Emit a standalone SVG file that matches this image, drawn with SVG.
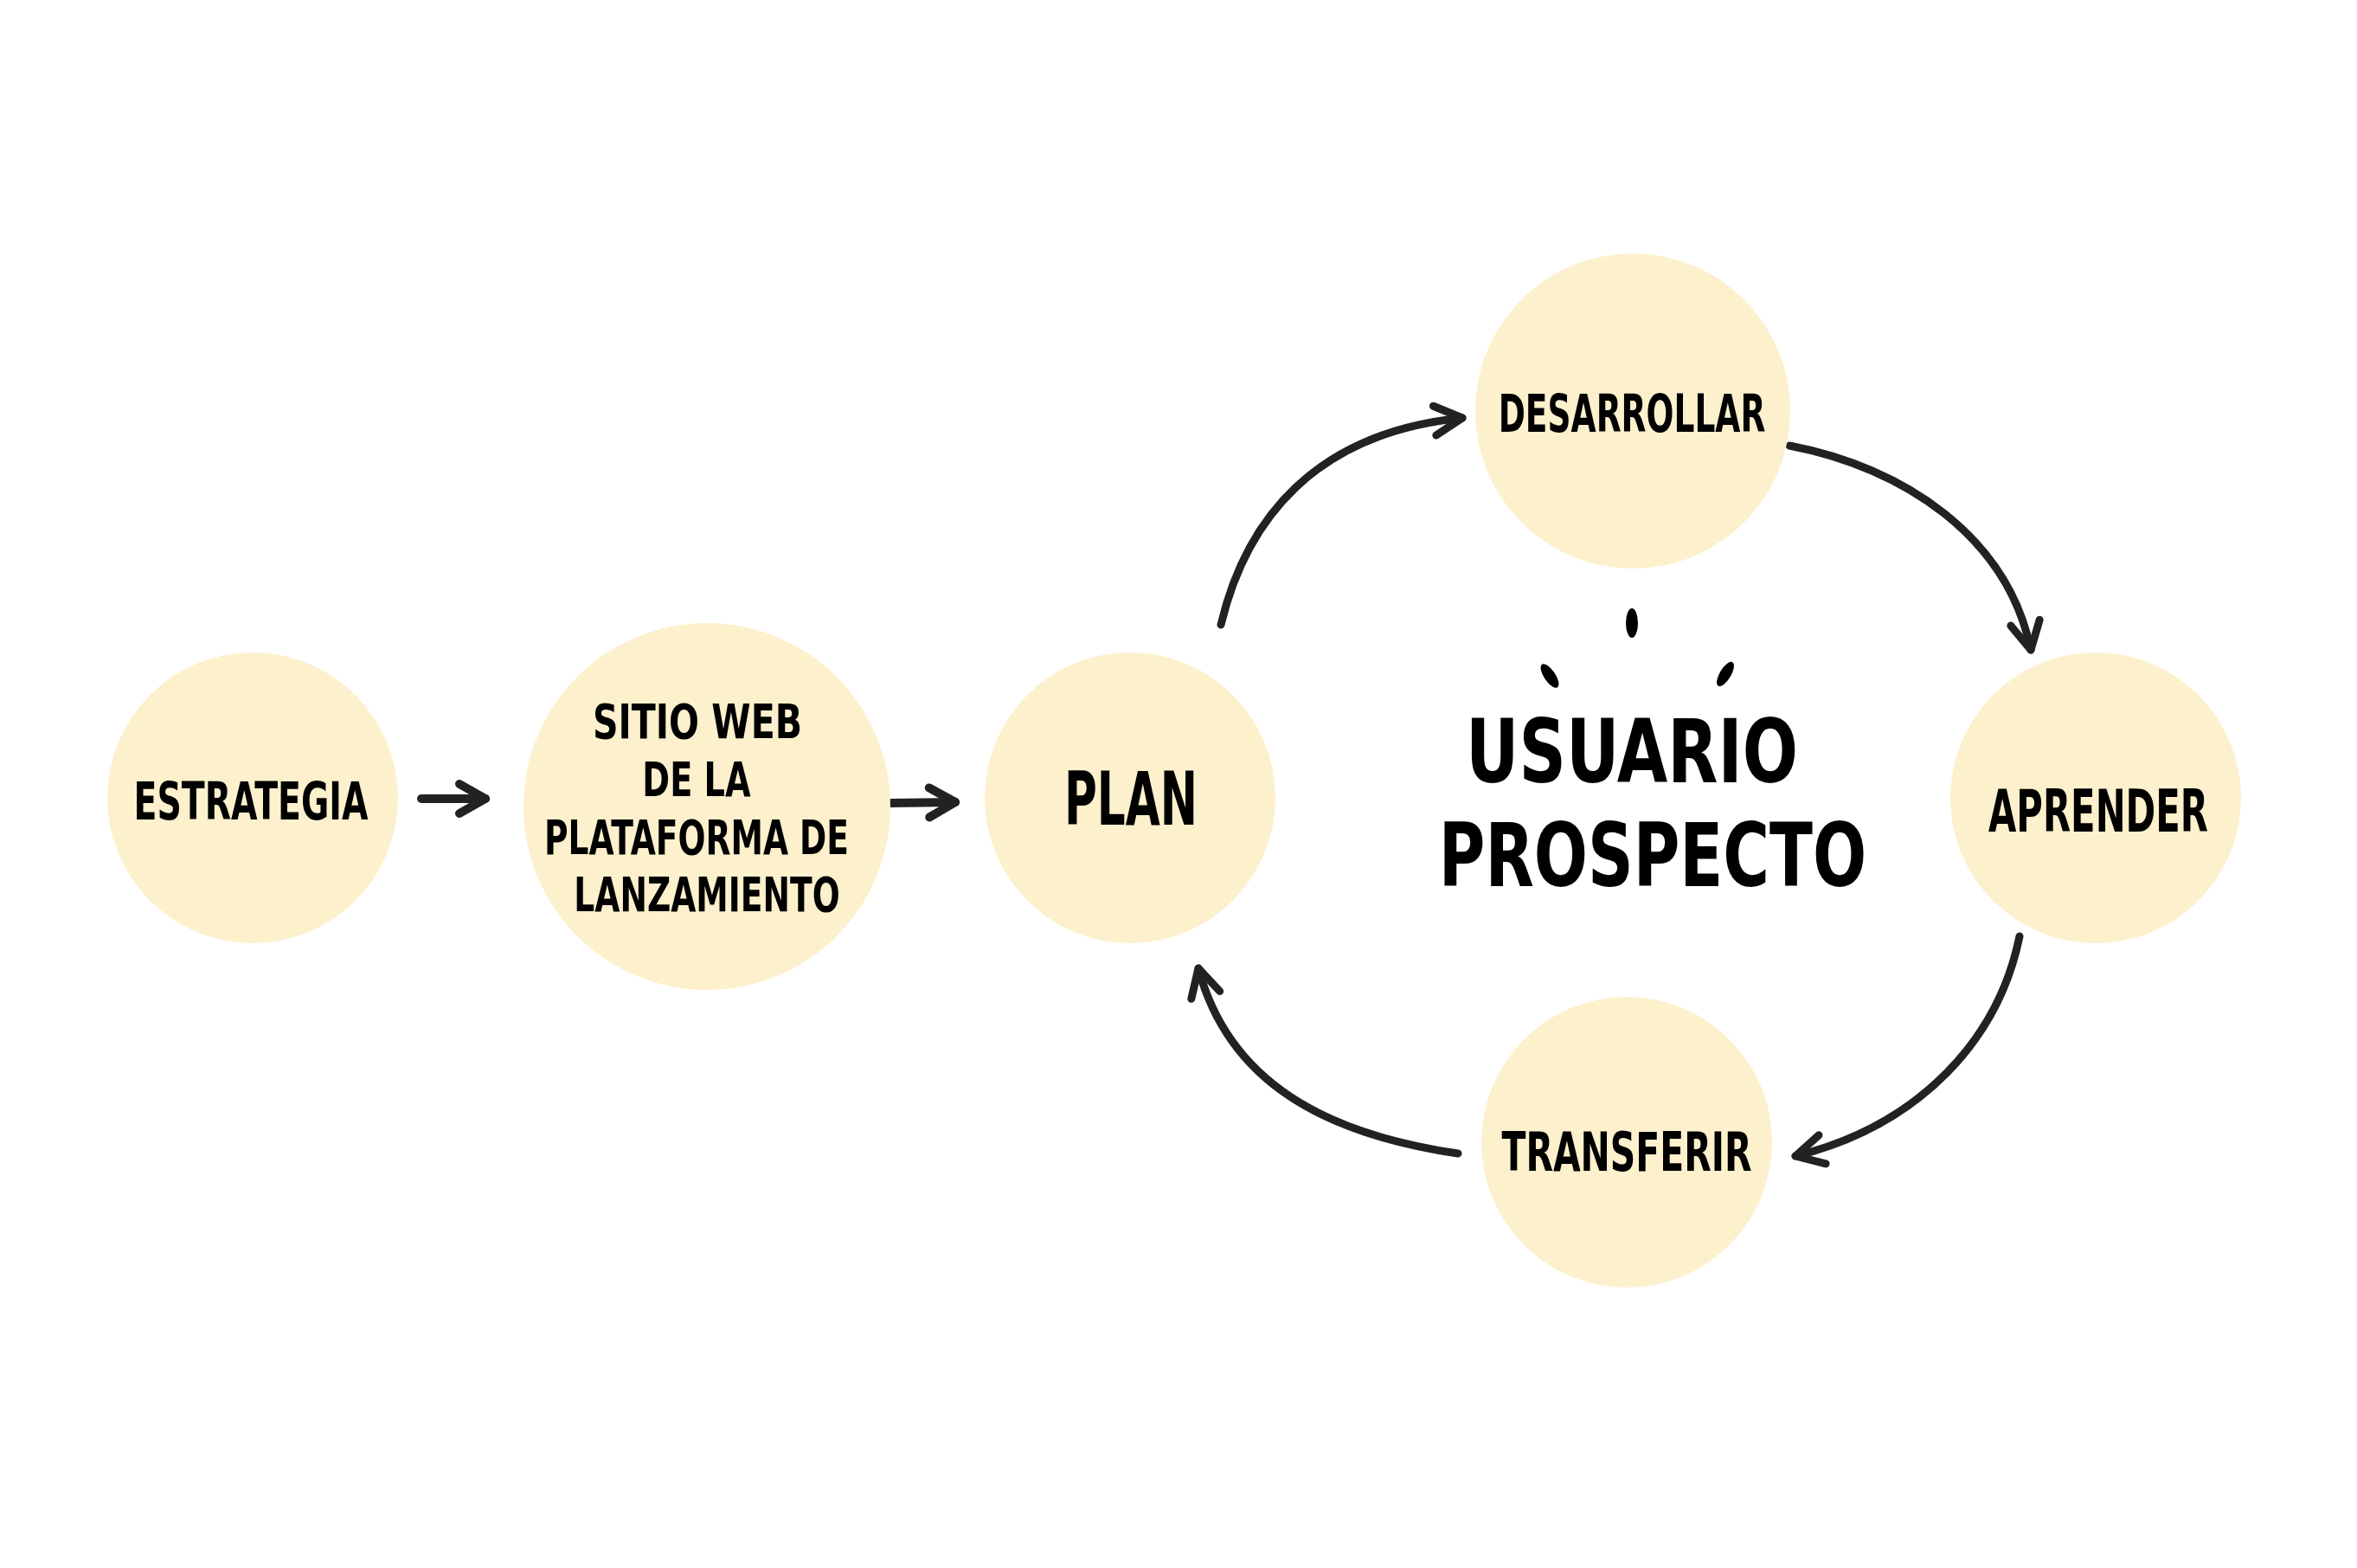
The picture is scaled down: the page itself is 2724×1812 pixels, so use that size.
<svg xmlns="http://www.w3.org/2000/svg" width="2724" height="1812" viewBox="0 0 2724 1812">
  <style>
    .node { fill: #FDF0CD; }
    .lbl { font-family: "DejaVu Sans Condensed", "Liberation Sans Narrow", "Liberation Sans", sans-serif; font-weight: bold; fill: #000; text-anchor: middle; }
    .conn { fill: none; stroke: #222; stroke-width: 9; stroke-linecap: round; stroke-linejoin: round; }
    .short { stroke-width: 10; }
    .dot { fill: #000; }
  </style>
  <defs>
    <marker id="head" markerUnits="userSpaceOnUse" markerWidth="80" markerHeight="80" viewBox="-40 -40 80 80" refX="0" refY="0" orient="auto" overflow="visible">
      <path d="M-32 -17 L0 0 L-32 17" fill="none" stroke="#222" stroke-width="9" stroke-linecap="round" stroke-linejoin="round"/>
    </marker>
    <marker id="headS" markerUnits="userSpaceOnUse" markerWidth="80" markerHeight="80" viewBox="-40 -40 80 80" refX="0" refY="0" orient="auto" overflow="visible">
      <path d="M-30 -17 L0 0 L-30 17" fill="none" stroke="#222" stroke-width="10" stroke-linecap="round" stroke-linejoin="round"/>
    </marker>
  </defs>
  <rect width="2724" height="1812" fill="#fff"/>

  <g id="connectors">
    <path class="conn short" d="M487 923 L561 923" marker-end="url(#headS)"/>
    <path class="conn short" d="M1030 928 L1104 927" marker-end="url(#headS)"/>
    <path class="conn" d="M1411 722 C1440 600 1520 500 1690 483" marker-end="url(#head)"/>
    <path class="conn" d="M2068 515 C2200 540 2320 620 2347 751" marker-end="url(#head)"/>
    <path class="conn" d="M2334 1082 C2310 1200 2220 1300 2075 1336" marker-end="url(#head)"/>
    <path class="conn" d="M1685 1333 C1530 1310 1420 1250 1385 1119" marker-end="url(#head)"/>
  </g>

  <g id="estrategia">
    <circle class="node" cx="292" cy="922" r="168"/>
    <text class="lbl" transform="translate(290 947) scale(0.7 1)" font-size="61" textLength="387" lengthAdjust="spacingAndGlyphs">ESTRATEGIA</text>
  </g>

  <g id="sitio-web">
    <circle class="node" cx="817" cy="932" r="212"/>
    <text class="lbl" transform="translate(806 853) scale(0.7 1)" font-size="56" textLength="346" lengthAdjust="spacingAndGlyphs">SITIO WEB</text>
    <text class="lbl" transform="translate(805 920) scale(0.7 1)" font-size="56" textLength="179" lengthAdjust="spacingAndGlyphs">DE LA</text>
    <text class="lbl" transform="translate(805 987) scale(0.7 1)" font-size="56" textLength="503" lengthAdjust="spacingAndGlyphs">PLATAFORMA DE</text>
    <text class="lbl" transform="translate(817 1053) scale(0.7 1)" font-size="56" textLength="439" lengthAdjust="spacingAndGlyphs">LANZAMIENTO</text>
  </g>

  <g id="plan">
    <circle class="node" cx="1306" cy="922" r="168"/>
    <text class="lbl" transform="translate(1307 953) scale(0.7 1)" font-size="85" textLength="220" lengthAdjust="spacingAndGlyphs">PLAN</text>
  </g>

  <g id="desarrollar">
    <circle class="node" cx="1887" cy="475" r="182"/>
    <text class="lbl" transform="translate(1886 499) scale(0.7 1)" font-size="61" textLength="441" lengthAdjust="spacingAndGlyphs">DESARROLLAR</text>
  </g>

  <g id="aprender">
    <circle class="node" cx="2422" cy="922" r="168"/>
    <text class="lbl" transform="translate(2425 961) scale(0.7 1)" font-size="68" textLength="363" lengthAdjust="spacingAndGlyphs">APRENDER</text>
  </g>

  <g id="transferir">
    <circle class="node" cx="1880" cy="1320" r="168"/>
    <text class="lbl" transform="translate(1880 1353) scale(0.7 1)" font-size="63" textLength="413" lengthAdjust="spacingAndGlyphs">TRANSFERIR</text>
  </g>

  <g id="usuario-prospecto">
    <ellipse class="dot" cx="1886" cy="720" rx="7" ry="17"/>
    <ellipse class="dot" cx="1791" cy="781" rx="6.5" ry="16" transform="rotate(-34 1791 781)"/>
    <ellipse class="dot" cx="1994" cy="779" rx="6.5" ry="16" transform="rotate(31 1994 779)"/>
    <text class="lbl" transform="translate(1886 904) scale(0.8 1)" font-size="102" textLength="480" lengthAdjust="spacingAndGlyphs">USUARIO</text>
    <text class="lbl" transform="translate(1910 1024) scale(0.8 1)" font-size="102" textLength="618" lengthAdjust="spacingAndGlyphs">PROSPECTO</text>
  </g>
</svg>
